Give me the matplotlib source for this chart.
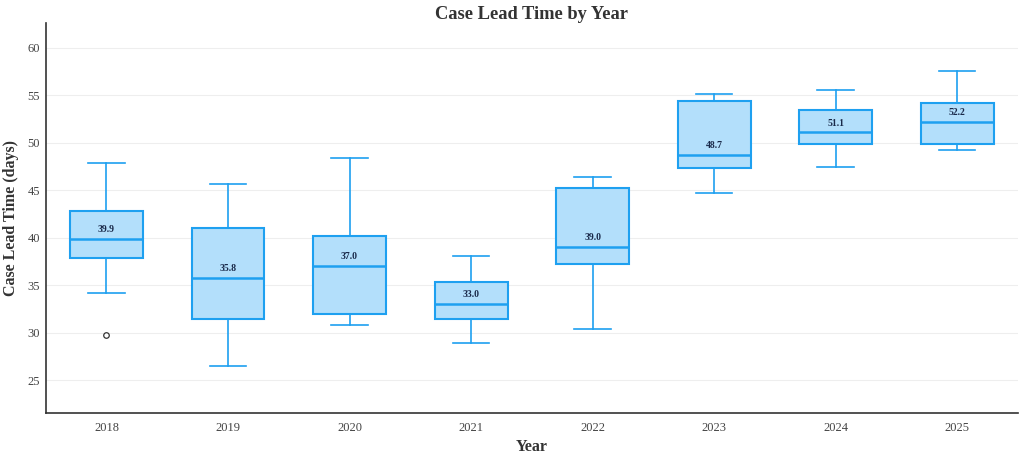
import matplotlib
matplotlib.use("Agg")
import matplotlib.pyplot as plt

years = ["2018", "2019", "2020", "2021", "2022", "2023", "2024", "2025"]
whisker_low = [34.2, 26.5, 30.8, 28.9, 30.4, 44.7, 47.5, 49.2]
q1 = [37.9, 31.4, 32.0, 31.4, 37.2, 47.3, 49.9, 49.9]
median = [39.9, 35.8, 37.0, 33.0, 39.0, 48.7, 51.1, 52.2]
q3 = [42.8, 41.0, 40.2, 35.3, 45.2, 54.4, 53.5, 54.2]
whisker_high = [47.9, 45.7, 48.4, 38.1, 46.4, 55.2, 55.6, 57.6]
outliers = [[29.8], [], [], [], [], [], [], []]

plt.rcParams['font.family'] = ['Liberation Serif', 'DejaVu Serif']

edge = '#1ea0f0'
fill = '#b3dffb'

fig = plt.figure(figsize=(10.24, 4.58), dpi=100)
ax = fig.add_axes([45.7/1024, 1 - 413.3/458, (1018 - 45.7)/1024, (413.3 - 23.3)/458])

stats = []
for i in range(len(years)):
    stats.append(dict(med=median[i], q1=q1[i], q3=q3[i], whislo=whisker_low[i],
                      whishi=whisker_high[i], fliers=outliers[i], label=years[i]))

positions = list(range(len(years)))
ax.bxp(stats, positions=positions, widths=0.6, patch_artist=True, showfliers=True,
       boxprops=dict(facecolor=fill, edgecolor=edge, linewidth=1.5),
       medianprops=dict(color=edge, linewidth=1.8),
       whiskerprops=dict(color=edge, linewidth=1.2),
       capprops=dict(color=edge, linewidth=1.2),
       capwidths=0.3,
       flierprops=dict(marker='o', markerfacecolor='white', markeredgecolor='#333333',
                       markersize=4, markeredgewidth=0.9))

for p, m in zip(positions, median):
    ax.text(p, m + 0.5, f"{m:.1f}", ha='center', va='bottom', fontsize=7,
            fontweight='bold', color='#1a2a4a')

ax.set_xlim(-0.5, len(years) - 0.5)
ax.set_ylim(21.5, 62.6)
ax.set_yticks([25, 30, 35, 40, 45, 50, 55, 60])
ax.set_xticks(positions)
ax.set_xticklabels(years)
ax.tick_params(axis='y', length=0, labelsize=9, colors='#444444', pad=4)
ax.tick_params(axis='x', length=0, labelsize=9, colors='#444444', pad=6)
ax.grid(axis='y', color='#eeeeee', linewidth=0.8)
ax.set_axisbelow(True)
for s in ['top', 'right']:
    ax.spines[s].set_visible(False)
for s in ['left', 'bottom']:
    ax.spines[s].set_color('#333333')
    ax.spines[s].set_linewidth(1.2)

ax.set_title("Case Lead Time by Year", fontsize=13.3, fontweight='bold', color='#333333', pad=3)
ax.set_xlabel("Year", fontsize=11.5, fontweight='bold', color='#333333', labelpad=4)
ax.set_ylabel("Case Lead Time (days)", fontsize=11.5, fontweight='bold', color='#333333', labelpad=6)

fig.savefig("out.png", dpi=100)
